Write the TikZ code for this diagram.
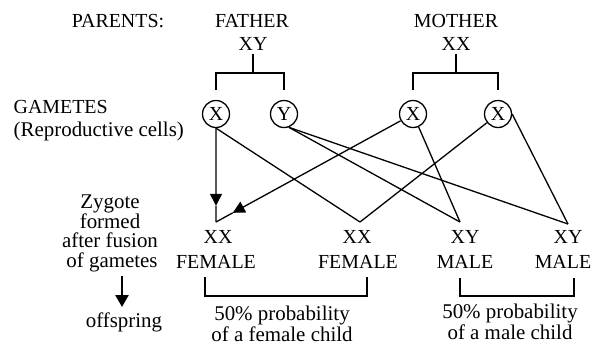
\documentclass[tikz,border=0pt]{standalone}
\usepackage{fontspec}
\setmainfont{Liberation Serif}
\usetikzlibrary{arrows.meta,calc}
\begin{document}
\begin{tikzpicture}[x=1bp,y=-1bp,
  font=\fontsize{21}{24}\selectfont,
  line width=1.3bp,
  lbl/.style={inner sep=0, anchor=base},
  caps/.style={lbl, font=\fontsize{20}{24}\selectfont},
  gam/.style={circle, draw, minimum size=27bp, inner sep=0, font=\fontsize{20}{22}\selectfont},
  tip/.style={-{Triangle[length=12bp,width=12bp]}}]
\useasboundingbox (0,0) rectangle (599,346);
% parents
\node[caps] (parents) at (118,27) {PARENTS:};
\node[caps] (father) at (252,27) {FATHER};
\node[caps] (mother) at (456,27) {MOTHER};
\node[caps] (fg) at (253,50) {XY};
\node[caps] (mg) at (456,50) {XX};
% gametes
\node[caps, anchor=base west] (gamlbl) at (13,113) {GAMETES};
\node[lbl, anchor=base west] (rep) at (13,136) {(Reproductive cells)};
\node[gam] (x1) at (216,114) {X};
\node[gam] (y1) at (284,114) {Y};
\node[gam] (x2) at (413,114) {X};
\node[gam] (x3) at (498,114) {X};
% brackets parents
\coordinate (fb) at (253,73);
\coordinate (mb) at (456,73);
\draw ([yshift=-3bp]fg.south) -- (fb);
\draw ([yshift=10bp]x1.north) |- (fb) -| ([yshift=10bp]y1.north);
\draw ([yshift=-3bp]mg.south) -- (mb);
\draw ([yshift=10bp]x2.north) |- (mb) -| ([yshift=10bp]x3.north);
% zygote vertices
\coordinate (v1) at (216,222);
\coordinate (v2) at (360,222);
\coordinate (v3) at (460,222);
\coordinate (v4) at (568,224);
\coordinate (t1) at ($(v1)!0.15!(x1)$);
\coordinate (t2) at ($(v1)!0.085!(x2)$);
\draw[tip] (x1.south) -- (t1);
\draw (t1) -- (v1);
\draw[tip] (x2) -- (t2);
\draw (t2) -- (v1);
\draw (x1.south) -- (v2);
\draw (y1.-70) -- (v3);
\draw (y1.-70) -- (v4);
\draw (x2) -- (v3);
\draw (x3) -- (v2);
\draw (x3.east) -- (v4);
% zygote label
\node[lbl] (z1) at (110,208) {Zygote};
\node[lbl] (z2) at (110,228) {formed};
\node[lbl] (z3) at (110,247) {after fusion};
\node[lbl] (z4) at (112,267) {of gametes};
\coordinate (a1) at (122,276);
\coordinate (a2) at (122,307);
\draw[line width=2.6bp, -{Triangle[length=12bp,width=13bp]}] (a1) -- (a2);
\node[lbl] (off) at (124,327) {offspring};
% offspring
\node[caps] (o1) at (218,243) {XX};
\node[caps] (s1) at (216,268) {FEMALE};
\node[caps] (o2) at (357,243) {XX};
\node[caps] (s2) at (358,268) {FEMALE};
\node[caps] (o3) at (465,243) {XY};
\node[caps] (s3) at (465,268) {MALE};
\node[caps] (o4) at (568,243) {XY};
\node[caps] (s4) at (563,268) {MALE};
% result brackets
\coordinate (fl) at (205,277);
\coordinate (fr) at (367,277);
\coordinate (ml) at (460,278);
\coordinate (mr) at (574,278);
\draw (fl) |- (367,296) -- (fr);
\draw (ml) |- (574,296) -- (mr);
\node[lbl] (p1) at (282,320) {50\% probability};
\node[lbl] (c1) at (282,341) {of a female child};
\node[lbl] (p2) at (510,318) {50\% probability};
\node[lbl] (c2) at (510,339) {of a male child};
\end{tikzpicture}
\end{document}
